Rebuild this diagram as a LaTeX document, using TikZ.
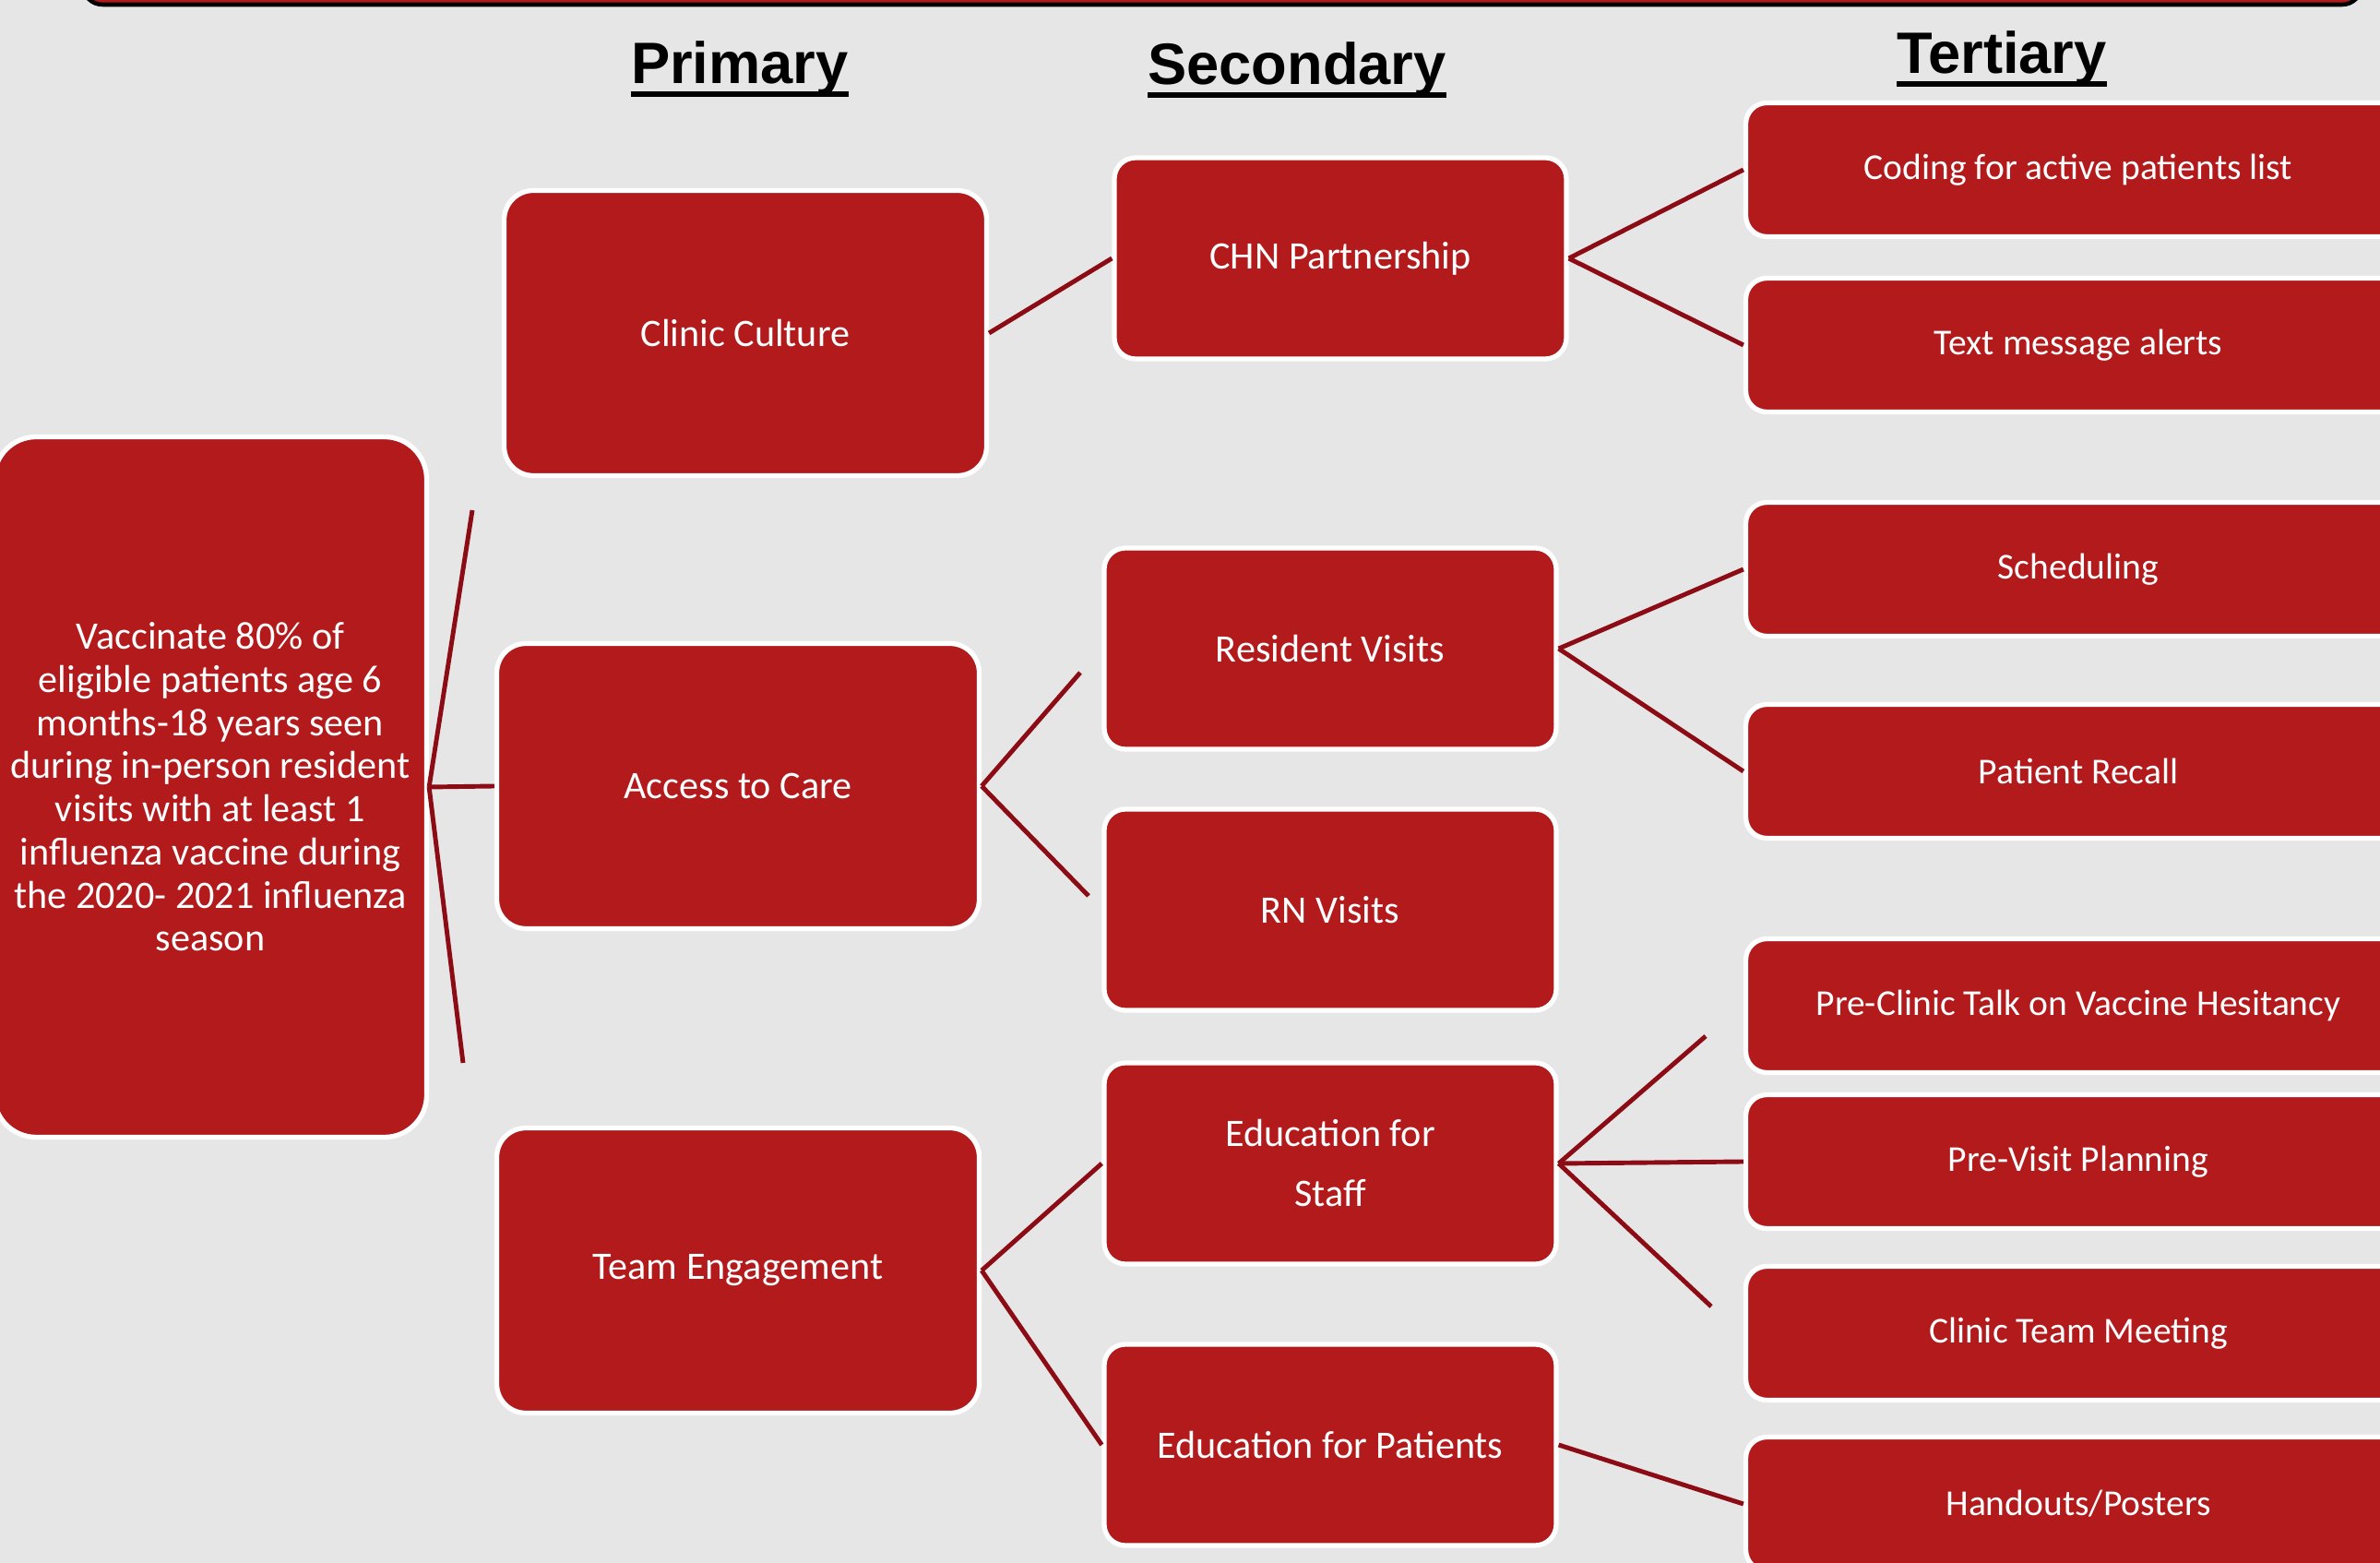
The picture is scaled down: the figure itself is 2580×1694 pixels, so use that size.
\documentclass[tikz,border=0pt]{standalone}
\usepackage{fontspec}
\setmainfont{Carlito}
\newfontfamily\entetefont{Liberation Sans}
\usepackage{xcolor}
\usepackage{tikz}
\definecolor{rouge}{RGB}{178,26,28}
\definecolor{bordeaux}{RGB}{140,12,22}
\definecolor{fond}{RGB}{230,230,230}
\newcommand{\souligne}[1]{\setbox0\hbox{#1}\rlap{\rule[-4pt]{\wd0}{1.7pt}}\box0}

\begin{document}
\begin{tikzpicture}[x=0.1mm, y=-0.1mm,
  boite/.style={draw=white, line width=1.5pt, fill=rouge, text=white, rounded corners=6.5pt, align=center, inner sep=0pt},
  prim/.style={boite, minimum width=52.3mm, minimum height=30.9mm, rounded corners=9pt, font=\fontsize{12}{14.6}\selectfont},
  sec/.style={boite, minimum width=49mm, minimum height=21.8mm, font=\fontsize{12}{14.6}\selectfont},
  tert/.style={boite, minimum width=72.1mm, minimum height=14.5mm, font=\fontsize{11.25}{13.7}\selectfont},
  entete/.style={anchor=base, font=\entetefont\bfseries\fontsize{18}{21}\selectfont},
  lien/.style={draw=bordeaux, line width=1.4pt}]
\fill[fond] (0,0) rectangle (2580,1694);
\useasboundingbox (0,0) rectangle (2580,1694);
\clip (0,0) rectangle (2580,1694);
\draw[fill=rouge, draw=black, line width=1.3pt, rounded corners=6pt] (90,-40) rectangle (2560,5);
\node[entete] (h1) at (802,91) {\souligne{Primary}};
\node[entete] (h2) at (1406,92) {\souligne{Secondary}};
\node[entete] (h3) at (2170,80) {\souligne{Tertiary}};
\node[boite, minimum width=46.9mm, minimum height=75.9mm, rounded corners=13pt, font=\fontsize{12}{13.3}\selectfont] (but) at (228,853) {Vaccinate 80\% of\\eligible patients age 6\\months-18 years seen\\during in-person resident\\visits with at least 1\\influenza vaccine during\\the 2020- 2021 influenza\\season\hspace*{0pt}};
\node[prim] (culture) at (808,361) {Clinic Culture};
\node[prim] (acces) at (800,852) {Access to Care};
\node[prim] (equipe) at (800,1377) {Team Engagement};
\node[sec] (chn) at (1453,280) {CHN Partnership};
\node[sec] (resid) at (1442,703) {Resident Visits};
\node[sec] (rn) at (1442,986) {RN Visits};
\node[sec, font=\fontsize{12}{18.5}\selectfont] (edperso) at (1442,1261) {Education for\\Staff};
\node[sec] (edpat) at (1442,1566) {Education for Patients};
\node[tert] (codage) at (2253,184) {Coding for active patients list};
\node[tert] (sms) at (2253,374) {Text message alerts};
\node[tert] (planif) at (2253,617) {Scheduling};
\node[tert] (rappel) at (2253,836) {Patient Recall};
\node[tert] (causerie) at (2253,1090) {Pre-Clinic Talk on Vaccine Hesitancy};
\node[tert] (previsite) at (2253,1259) {Pre-Visit Planning};
\node[tert] (reunion) at (2253,1445) {Clinic Team Meeting};
\node[tert] (affiches) at (2253,1630) {Handouts/Posters};
\coordinate (bh) at (512,553); \coordinate (bb) at (502,1152);
\coordinate (ah) at (1171,729); \coordinate (ab) at (1180,971);
\coordinate (sh) at (1849,1123); \coordinate (sb) at (1855,1416);
\draw[lien] (but.east) -- (bh); \draw[lien] (but.east) -- (acces.west); \draw[lien] (but.east) -- (bb);
\draw[lien] (culture.east) -- (chn.west);
\draw[lien] (chn.east) -- (codage.west); \draw[lien] (chn.east) -- (sms.west);
\draw[lien] (acces.east) -- (ah); \draw[lien] (acces.east) -- (ab);
\draw[lien] (resid.east) -- (planif.west); \draw[lien] (resid.east) -- (rappel.west);
\draw[lien] (equipe.east) -- (edperso.west); \draw[lien] (equipe.east) -- (edpat.west);
\draw[lien] (edperso.east) -- (sh); \draw[lien] (edperso.east) -- (previsite.west); \draw[lien] (edperso.east) -- (sb);
\draw[lien] (edpat.east) -- (affiches.west);
\end{tikzpicture}
\end{document}
